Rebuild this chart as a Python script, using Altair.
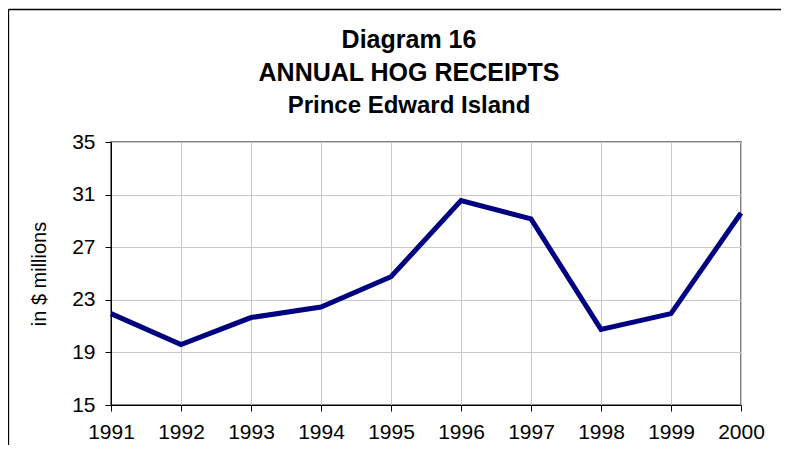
import altair as alt
import pandas as pd

# Data
years = ["1991", "1992", "1993", "1994", "1995", "1996", "1997", "1998", "1999", "2000"]
receipts = [21.95, 19.6, 21.65, 22.45, 24.75, 30.55, 29.15, 20.75, 21.95, 29.6]
y_ticks = [15, 19, 23, 27, 31, 35]

W, H = 630, 263
FONT = "Liberation Sans"

df = pd.DataFrame({"year": years, "value": receipts})
frame_df = pd.DataFrame({"frame": ["border"]})

x_enc = alt.X(
    "year:O",
    scale=alt.Scale(type="point", padding=0),
    axis=alt.Axis(
        title=None, labelAngle=0, labelFontSize=21, labelFont=FONT, labelColor="black",
        tickSize=6, tickColor="black", domainColor="black", domainWidth=1,
        grid=True, gridColor="#c8c8c8", gridWidth=1, labelPadding=10,
    ),
)
y_enc = alt.Y(
    "value:Q",
    scale=alt.Scale(domain=[15, 35], nice=False, zero=False),
    axis=alt.Axis(
        values=y_ticks, title="in $ millions", titleFont=FONT, titleFontSize=20,
        titleFontWeight="normal", titleColor="black", titlePadding=22,
        labelFontSize=21, labelFont=FONT, labelColor="black", labelPadding=10,
        tickSize=6, tickColor="black", domainColor="black", domainWidth=1,
        grid=True, gridColor="#c8c8c8", gridWidth=1,
    ),
)

line = alt.Chart(df).mark_line(color="#000080", strokeWidth=5).encode(x=x_enc, y=y_enc)

frame_top = alt.Chart(frame_df).mark_rule(color="black", strokeWidth=1.3).encode(
    x=alt.value(-102.5), x2=alt.value(W + 40), y=alt.value(-132.5)
)
frame_left = alt.Chart(frame_df).mark_rule(color="black", strokeWidth=1.3).encode(
    x=alt.value(-102.5), y=alt.value(-132.5), y2=alt.value(H + 40)
)

chart = (
    alt.layer(line, frame_top, frame_left)
    .properties(
        width=W,
        height=H,
        autosize=alt.AutoSizeParams(type="none"),
        padding={"left": 103, "top": 134, "right": 40, "bottom": 40},
        background="white",
        title=alt.TitleParams(
            text=["Diagram 16", "ANNUAL HOG RECEIPTS"],
            subtitle="Prince Edward Island",
            font=FONT, fontSize=25, fontWeight="bold", color="black",
            subtitleFont=FONT, subtitleFontSize=24, subtitleFontWeight="bold",
            subtitleColor="black", lineHeight=33, subtitlePadding=8,
            anchor="middle", frame="group", dx=-17, offset=-109,
        ),
    )
    .configure_view(stroke="#808080", strokeWidth=2)
)

chart.save("out.html", embed_options={"renderer": "svg", "actions": False})
